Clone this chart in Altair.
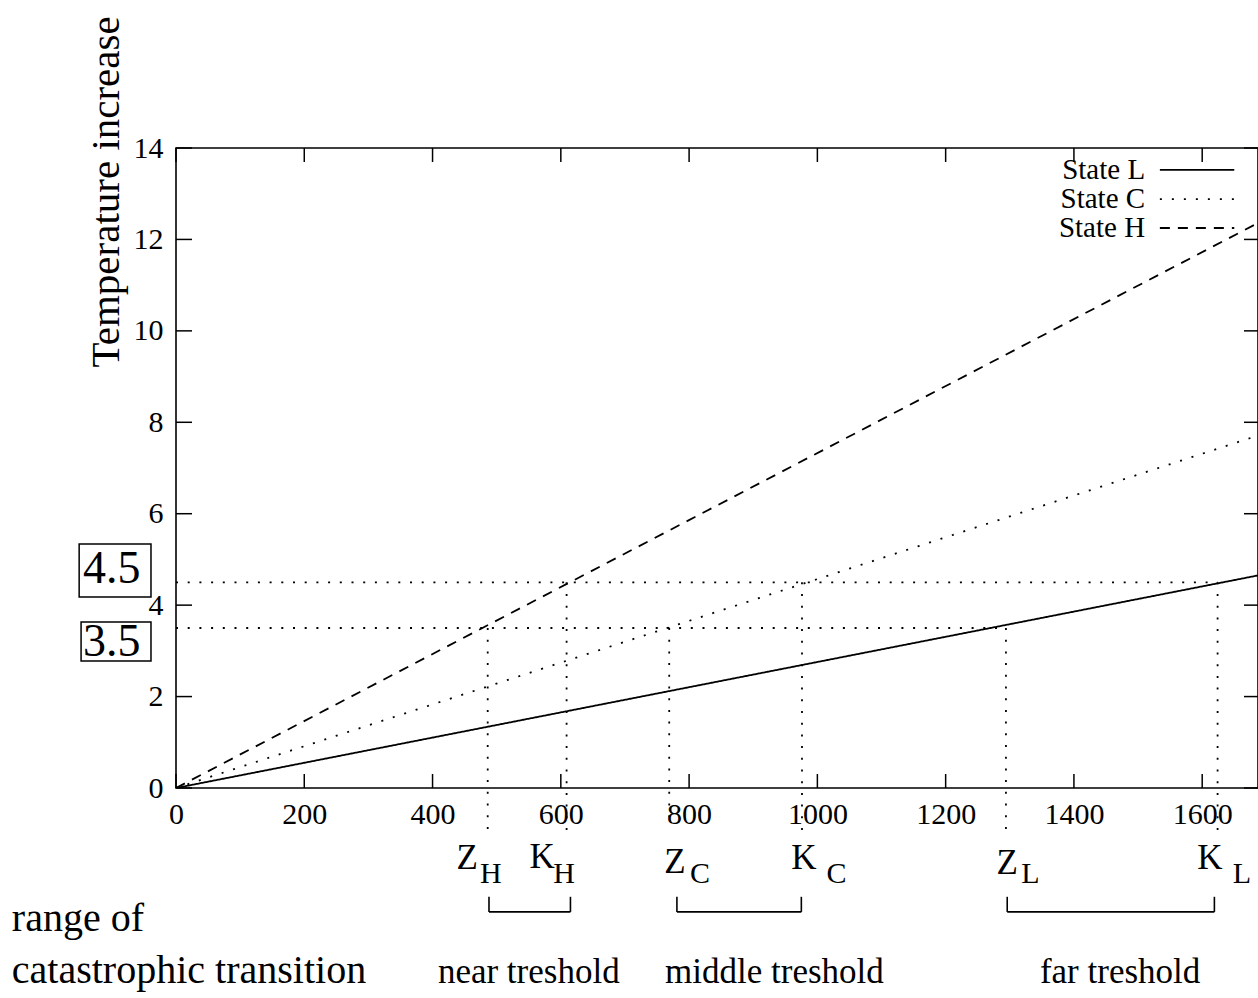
import altair as alt
import pandas as pd

FONT = "Liberation Serif"

# ---- data ----
series = ["State L", "State C", "State H"]
x_ends = [0, 1687]
y_L = [0, 4.65]
y_C = [0, 7.71]
y_H = [0, 12.36]
dashes = [[1, 0], [2, 10], [10, 8]]

x_ticks = [0, 200, 400, 600, 800, 1000, 1200, 1400, 1600]
y_ticks = [0, 2, 4, 6, 8, 10, 12, 14]

levels = [3.5, 4.5]
level_ends = [1295, 1624]

marker_letters = ["Z", "K", "Z", "K", "Z", "K"]
marker_subs = ["H", "H", "C", "C", "L", "L"]
marker_x = [486, 609, 769, 976, 1294, 1624]
marker_top = [3.5, 4.5, 3.5, 4.5, 3.5, 4.5]
marker_bottom = [-1.07, -0.92, -0.81, -0.92, -0.92, -1.03]
letter_x = [454, 571, 778, 979, 1296, 1612]
letter_y = [-1.54, -1.50, -1.62, -1.53, -1.64, -1.53]
sub_x = [491, 605, 817, 1030, 1332, 1662]
sub_y = [-1.88, -1.88, -1.88, -1.88, -1.88, -1.88]

bracket_names = ["near treshold", "middle treshold", "far treshold"]
bracket_left = [488, 781, 1296]
bracket_right = [615, 975, 1619]
bracket_top = [-2.38, -2.38, -2.38]
bracket_bottom = [-2.71, -2.71, -2.71]
bracket_label_x = [550, 933, 1472]
bracket_label_y = [-4.27, -4.27, -4.27]

side_texts = ["range of", "catastrophic transition"]
side_x = [-256, -256]
side_y = [-3.13, -4.27]

box_labels = ["4.5", "3.5"]
box_left = [-151, -148]
box_right = [-39, -39]
box_top = [5.34, 3.63]
box_bottom = [4.18, 2.78]
box_text_x = [-100, -100]
box_text_y = [4.79, 3.19]

title_text = ["Temperature increase"]
title_x = [-89]
title_y = [13.04]

legend_text_x = [1511, 1511, 1511]
legend_y = [13.52, 12.88, 12.25]
legend_x1 = [1534, 1534, 1534]
legend_x2 = [1650, 1650, 1650]

# ---- tables ----
lines_df = pd.DataFrame({
    "x": x_ends * 3,
    "y": y_L + y_C + y_H,
    "series": [s for s in series for _ in x_ends],
})
level_df = pd.DataFrame({"y": levels, "x2": level_ends})
marker_df = pd.DataFrame({
    "x": marker_x, "top": marker_top, "bottom": marker_bottom,
    "letter": marker_letters, "sub": marker_subs,
    "lx": letter_x, "ly": letter_y, "sx": sub_x, "sy": sub_y,
})
bracket_df = pd.DataFrame({
    "name": bracket_names, "left": bracket_left, "right": bracket_right,
    "top": bracket_top, "bottom": bracket_bottom,
    "lx": bracket_label_x, "ly": bracket_label_y,
})
side_df = pd.DataFrame({"t": side_texts, "x": side_x, "y": side_y})
box_df = pd.DataFrame({
    "t": box_labels, "l": box_left, "r": box_right, "top": box_top,
    "bottom": box_bottom, "tx": box_text_x, "ty": box_text_y,
})
title_df = pd.DataFrame({"t": title_text, "x": title_x, "y": title_y})
legend_df = pd.DataFrame({
    "series": series, "tx": legend_text_x, "y": legend_y,
    "x1": legend_x1, "x2": legend_x2,
})
xt_df = pd.DataFrame({"x": x_ticks})
yt_df = pd.DataFrame({"y": y_ticks})

# ---- scales/axes ----
x_scale = alt.Scale(domain=[0, 1687], nice=False, zero=False)
y_scale = alt.Scale(domain=[0, 14], nice=False, zero=False)
x_axis = alt.Axis(values=x_ticks, format="d", ticks=False, tickSize=0, domain=False, grid=False,
                  labelFont=FONT, labelFontSize=30, labelColor="black",
                  labelPadding=11, labelFlush=False, labelOverlap=False, title=None)
y_axis = alt.Axis(values=y_ticks, format="d", ticks=False, tickSize=0, domain=False, grid=False,
                  labelFont=FONT, labelFontSize=30, labelColor="black",
                  labelPadding=13, labelFlush=False, labelOverlap=False, title=None)


def X(f):
    return alt.X(f, type="quantitative", scale=x_scale, axis=x_axis)


def Y(f):
    return alt.Y(f, type="quantitative", scale=y_scale, axis=y_axis)


dash_scale = alt.Scale(domain=series, range=dashes)

lines = alt.Chart(lines_df).mark_line(color="black", strokeWidth=1.8, clip=True).encode(
    x=X("x"), y=Y("y"),
    strokeDash=alt.StrokeDash("series:N", scale=dash_scale, legend=None),
    detail="series:N",
)

tick_style = dict(color="black", strokeWidth=1.5, clip=False)
bottom_ticks = alt.Chart(xt_df).mark_rule(**tick_style).encode(
    x=X("x"), y=alt.value(640), y2=alt.value(626))
top_ticks = alt.Chart(xt_df).mark_rule(**tick_style).encode(
    x=X("x"), y=alt.value(0), y2=alt.value(14))
left_ticks = alt.Chart(yt_df).mark_rule(**tick_style).encode(
    y=Y("y"), x=alt.value(0), x2=alt.value(16))
right_ticks = alt.Chart(yt_df).mark_rule(**tick_style).encode(
    y=Y("y"), x=alt.value(1082), x2=alt.value(1068))

dot_style = dict(color="black", strokeWidth=1.8, strokeDash=[2, 9.7], clip=False)
hlines = alt.Chart(level_df).transform_calculate(zero="0").mark_rule(**dot_style).encode(
    x=X("zero"), x2="x2:Q", y=Y("y"))
vlines = alt.Chart(marker_df).mark_rule(**dot_style).encode(
    x=X("x"), y=Y("top"), y2="bottom:Q")

letters = alt.Chart(marker_df).mark_text(
    font=FONT, fontSize=35, color="black", align="center", baseline="middle"
).encode(x=X("lx"), y=Y("ly"), text="letter:N")
subs = alt.Chart(marker_df).mark_text(
    font=FONT, fontSize=30, color="black", align="center", baseline="middle"
).encode(x=X("sx"), y=Y("sy"), text="sub:N")

br_style = dict(color="black", strokeWidth=1.6, clip=False)
br_left = alt.Chart(bracket_df).mark_rule(**br_style).encode(
    x=X("left"), y=Y("top"), y2="bottom:Q")
br_right = alt.Chart(bracket_df).mark_rule(**br_style).encode(
    x=X("right"), y=Y("top"), y2="bottom:Q")
br_h = alt.Chart(bracket_df).mark_rule(**br_style).encode(
    x=X("left"), x2="right:Q", y=Y("bottom"))
br_text = alt.Chart(bracket_df).mark_text(
    font=FONT, fontSize=35, color="black", align="center", baseline="alphabetic"
).encode(x=X("lx"), y=Y("ly"), text="name:N")

side = alt.Chart(side_df).mark_text(
    font=FONT, fontSize=40, color="black", align="left", baseline="alphabetic"
).encode(x=X("x"), y=Y("y"), text="t:N")

boxes = alt.Chart(box_df).mark_rect(
    fill=None, stroke="black", strokeWidth=1.5, clip=False
).encode(x=X("l"), x2="r:Q", y=Y("top"), y2="bottom:Q")
box_text = alt.Chart(box_df).mark_text(
    font=FONT, fontSize=46, color="black", align="center", baseline="middle"
).encode(x=X("tx"), y=Y("ty"), text="t:N")

title = alt.Chart(title_df).mark_text(
    font=FONT, fontSize=41, color="black", align="center", baseline="alphabetic", angle=270
).encode(x=X("x"), y=Y("y"), text="t:N")

leg_text = alt.Chart(legend_df).mark_text(
    font=FONT, fontSize=29, color="black", align="right", baseline="middle"
).encode(x=X("tx"), y=Y("y"), text="series:N")
leg_lines = alt.Chart(legend_df).mark_rule(color="black", strokeWidth=1.8, clip=False).encode(
    x=X("x1"), x2="x2:Q", y=Y("y"),
    strokeDash=alt.StrokeDash("series:N", scale=dash_scale, legend=None),
)

chart = alt.layer(
    lines, bottom_ticks, top_ticks, left_ticks, right_ticks,
    hlines, vlines, letters, subs, br_left, br_right, br_h, br_text,
    side, boxes, box_text, title, leg_text, leg_lines,
).properties(
    width=1082, height=640,
    autosize=alt.AutoSizeParams(type="none"),
    padding={"left": 176, "top": 148, "right": 0, "bottom": 204},
    background="white",
).configure_view(stroke="black", strokeWidth=1.6)

chart.save("out.html", embed_options={"renderer": "svg", "actions": False})
